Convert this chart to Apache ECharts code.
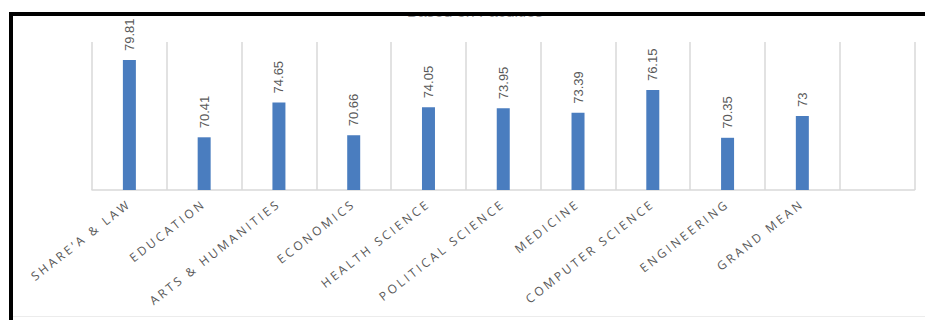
<!DOCTYPE html>
<html>
<head>
<meta charset="utf-8">
<script src="https://cdn.jsdelivr.net/npm/echarts@6/dist/echarts.min.js"></script>
<style>
  html, body { margin: 0; padding: 0; background: #ffffff; }
  #chart { width: 925px; height: 320px; }
  /* spaced-out capitals for the faculty names */
  #chart text[style*="Open Sans"] { letter-spacing: 2.8px; }
</style>
</head>
<body>
<div id="chart"></div>
<script>
// Faculty names on the category axis (last slot left empty)
const categories = [
  "SHARE\u2019A & LAW", "EDUCATION", "ARTS & HUMANITIES", "ECONOMICS",
  "HEALTH SCIENCE", "POLITICAL SCIENCE", "MEDICINE", "COMPUTER SCIENCE",
  "ENGINEERING", "GRAND MEAN", ""
];
// Mean score per faculty
const scores = [79.81, 70.41, 74.65, 70.66, 74.05, 73.95, 73.39, 76.15, 70.35, 73, null];
const chartTitle = "Based on Faculties";

const chart = echarts.init(document.getElementById('chart'), null, { renderer: 'svg' });

chart.setOption({
  animation: false,
  backgroundColor: '#ffffff',
  grid: { left: 92, right: 10.5, top: 42, bottom: 130, containLabel: false },
  xAxis: {
    type: 'category',
    data: categories,
    boundaryGap: true,
    axisLine: { show: true, lineStyle: { color: '#d9d9d9', width: 1.5 } },
    axisTick: { show: false },
    splitLine: { show: true, lineStyle: { color: '#d9d9d9', width: 1.5 } },
    axisLabel: {
      interval: 0,
      rotate: 38,
      margin: 12,
      color: '#595959',
      fontSize: 12,
      fontFamily: 'Open Sans'
    }
  },
  yAxis: {
    type: 'value',
    min: 64,
    max: 82,
    interval: 2,
    show: false,
    splitLine: { show: false }
  },
  series: [{
    type: 'bar',
    data: scores,
    barWidth: 13,
    itemStyle: { color: '#4a7dbf' },
    label: {
      show: true,
      position: 'top',
      rotate: 90,
      align: 'left',
      verticalAlign: 'middle',
      distance: 9,
      color: '#595959',
      fontSize: 13,
      fontFamily: 'Liberation Sans'
    }
  }],
  graphic: [
    {
      type: 'text', z: 10,
      style: {
        x: 475, y: 19, text: chartTitle,
        fill: '#9a9a9a', font: '16px "Liberation Sans"',
        textAlign: 'center', textVerticalAlign: 'bottom'
      }
    },
    { type: 'rect', z: 20, shape: { x: 0, y: 0, width: 925, height: 12 }, style: { fill: '#ffffff' } },
    { type: 'rect', z: 21, shape: { x: 9, y: 12, width: 916, height: 4 }, style: { fill: '#000000' } },
    { type: 'rect', z: 21, shape: { x: 9, y: 12, width: 4, height: 308 }, style: { fill: '#000000' } },
    { type: 'rect', z: 21, shape: { x: 13, y: 316, width: 912, height: 1 }, style: { fill: '#ececec' } }
  ]
});
</script>
</body>
</html>
